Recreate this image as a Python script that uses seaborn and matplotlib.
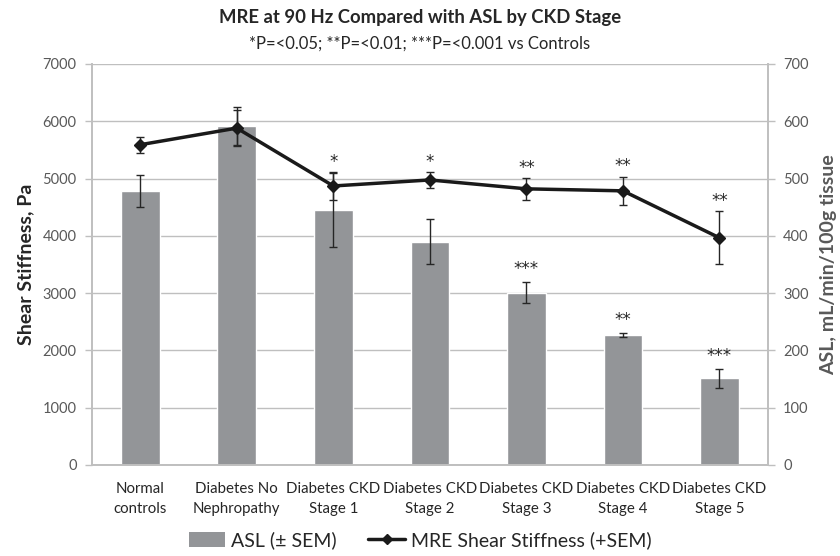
import numpy as np
import pandas as pd
import matplotlib
matplotlib.use("Agg")
import matplotlib.pyplot as plt
from matplotlib.lines import Line2D
from matplotlib.patches import Patch
import seaborn as sns

# valeurs
categories = ["Normal\ncontrols", "Diabetes No\nNephropathy", "Diabetes CKD\nStage 1",
              "Diabetes CKD\nStage 2", "Diabetes CKD\nStage 3", "Diabetes CKD\nStage 4",
              "Diabetes CKD\nStage 5"]
asl_mean = [478, 592, 445, 390, 301, 227, 151]
asl_sem = [28, 33, 65, 39, 18, 3, 16]
mre_mean = [5590, 5880, 4870, 4975, 4820, 4785, 3965]
mre_sem = [140, 315, 240, 140, 190, 245, 465]
asl_stars = ["", "", "", "", "***", "**", "***"]
mre_stars = ["", "", "*", "*", "**", "**", "**"]
left_ticks = [0, 1000, 2000, 3000, 4000, 5000, 6000, 7000]
right_ticks = [0, 100, 200, 300, 400, 500, 600, 700]

sns.set_theme(style="white")
plt.rcParams['font.family'] = ['Lato', 'DejaVu Sans']

df = pd.DataFrame({"group": categories, "asl": asl_mean})
x = np.arange(len(categories))

fig = plt.figure(figsize=(8.4, 5.56), dpi=100)
ax = fig.add_axes([0.1095, 0.1637, 0.8045, 0.7213])
ax2 = ax.twinx()
ax.set_zorder(ax2.get_zorder() + 1)
ax.patch.set_visible(False)

grey_txt = "#595959"
axis_col = "#bfbfbf"
dark = "#262626"

# barres ASL (axe de droite)
sns.barplot(data=df, x="group", y="asl", color="#939598", width=0.4, saturation=1,
            ax=ax2, zorder=2)
ax2.errorbar(x, asl_mean, yerr=asl_sem, fmt="none", ecolor=dark, elinewidth=1,
             capsize=3, capthick=1, zorder=3)
ax2.set_ylim(0, 700)
ax2.set_yticks(right_ticks)
ax2.yaxis.grid(True, color=axis_col, linewidth=1)
ax2.set_axisbelow(True)
ax2.set_ylabel("ASL, mL/min/100g tissue", fontsize=14, fontweight="bold", color=grey_txt,
               labelpad=8)

# courbe MRE (axe de gauche)
ax.errorbar(x, mre_mean, yerr=mre_sem, fmt="none", ecolor=dark, elinewidth=1,
            capsize=3, capthick=1, zorder=4)
ax.plot(x, mre_mean, color="#1a1a1a", linewidth=2.5, marker="D", markersize=6.5, zorder=5)
ax.set_ylim(0, 7000)
ax.set_yticks(left_ticks)
ax.set_xlim(-0.5, len(categories) - 0.5)
ax.set_ylabel("Shear Stiffness, Pa", fontsize=14, fontweight="bold", color=dark,
              labelpad=6)

# étoiles de significativité
for i in x:
    if mre_stars[i]:
        ax.annotate(mre_stars[i], (i, mre_mean[i] + mre_sem[i]), xytext=(0, 1),
                    textcoords="offset points", ha="center", va="bottom", fontsize=12,
                    color=dark, family="DejaVu Sans")
    if asl_stars[i]:
        ax2.annotate(asl_stars[i], (i, asl_mean[i] + asl_sem[i]), xytext=(0, 3),
                     textcoords="offset points", ha="center", va="bottom", fontsize=12,
                     color=dark, family="DejaVu Sans")

for a in (ax, ax2):
    for s in a.spines.values():
        s.set_color(axis_col)
    a.spines["top"].set_visible(False)
    a.tick_params(axis="y", colors=axis_col, labelcolor=grey_txt, labelsize=10.5,
                  length=5, direction="out", width=1, pad=6)
    a.set_xlabel("")

ax.set_xticks(x)
ax.set_xticklabels(categories, linespacing=1.55)
ax.set_xticks(np.arange(-0.5, len(categories), 1), minor=True)
ax.tick_params(axis="x", which="major", length=0, labelsize=10.8, labelcolor=dark, pad=12)
ax.tick_params(axis="x", which="minor", length=5, color=axis_col, direction="out", width=1)
ax2.tick_params(axis="x", which="both", length=0, labelbottom=False)

fig.text(0.5, 0.969, "MRE at 90 Hz Compared with ASL by CKD Stage", ha="center",
         va="center", fontsize=13.3, fontweight="bold", color=dark)
fig.text(0.5, 0.922, "*P=<0.05; **P=<0.01; ***P=<0.001 vs Controls", ha="center",
         va="center", fontsize=12, color=dark)

handles = [Patch(facecolor="#939598", edgecolor="none"),
           Line2D([], [], color="#1a1a1a", linewidth=2.5, marker="D", markersize=5)]
fig.legend(handles, ["ASL (± SEM)", "MRE Shear Stiffness (+SEM)"], loc="center",
           bbox_to_anchor=(0.5, 0.028), ncol=2, frameon=False, fontsize=14,
           handlelength=1.9, handleheight=0.8, handletextpad=0.3, columnspacing=1.6,
           labelcolor=dark)

fig.savefig("out.png", dpi=100)
